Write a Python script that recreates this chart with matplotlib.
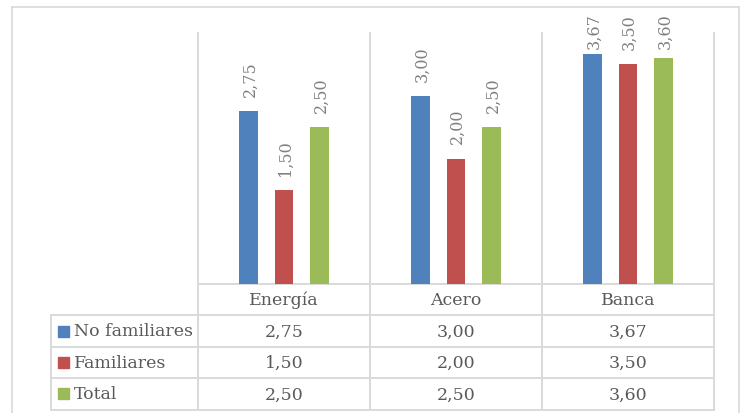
import matplotlib
matplotlib.use("Agg")
import matplotlib.pyplot as plt

categories = ["Energía", "Acero", "Banca"]
series_names = ["No familiares", "Familiares", "Total"]
no_familiares = [2.75, 3.00, 3.67]
familiares = [1.50, 2.00, 3.50]
total = [2.50, 2.50, 3.60]
series_values = [no_familiares, familiares, total]
colors = ["#4f81bd", "#c0504d", "#9bbb59"]

def fmt(v):
    return f"{v:.2f}".replace(".", ",")

W, H = 740, 414
fig = plt.figure(figsize=(W / 100, H / 100), dpi=100)
fig.patch.set_facecolor("white")

FONT = "DejaVu Serif"
TEXT = "#595959"
LABEL = "#808080"
GRID = "#d9d9d9"

# pixel layout
plot_left, plot_right = 198, 714
plot_top, plot_bottom = 34, 285
row_edges = [285, 316, 348, 379, 411]
table_left = 51

# overlay in pixel coordinates for frame and data table
ov = fig.add_axes([0, 0, 1, 1])
ov.set_xlim(0, W)
ov.set_ylim(H, 0)
ov.axis("off")

# chart frame
ov.plot([12, 739], [8, 8], color=GRID, lw=1.2)
ov.plot([12, 12], [8, H], color=GRID, lw=1.2)
ov.plot([739, 739], [8, H], color=GRID, lw=1.2)

# bar plot area
ax = fig.add_axes([plot_left / W, (H - plot_bottom) / H,
                   (plot_right - plot_left) / W, (plot_bottom - plot_top) / H])
ax.set_xlim(-0.5, len(categories) - 0.5)
ax.set_ylim(0, 4)
ax.axis("off")
ax.patch.set_alpha(0)

px_per_unit = (plot_bottom - plot_top) / 4.0
label_gap = 15 / px_per_unit
label_cap = 3.76

bar_w = 0.107
spacing = 0.207
n = len(series_values)
for s, (vals, col) in enumerate(zip(series_values, colors)):
    off = (s - (n - 1) / 2) * spacing
    xs = [i + off for i in range(len(categories))]
    ax.bar(xs, vals, width=bar_w, color=col, zorder=3)
    for x, v in zip(xs, vals):
        ax.text(x + 0.008, min(v + label_gap, label_cap), fmt(v), rotation=90,
                ha="center", va="bottom", color=LABEL, fontsize=11.5,
                family=FONT, clip_on=False)

# vertical separators through plot and table
ncol = len(categories)
col_w = (plot_right - plot_left) / ncol
col_edges = [plot_left + k * col_w for k in range(ncol + 1)]
for xe in col_edges:
    ov.plot([xe, xe], [plot_top, row_edges[-1]], color=GRID, lw=1.4, zorder=1)
ov.plot([table_left, table_left], [row_edges[1], row_edges[-1]], color=GRID, lw=1.4)

# horizontal table lines
ov.plot([plot_left, plot_right], [row_edges[0], row_edges[0]], color=GRID, lw=1.4)
for ye in row_edges[1:]:
    ov.plot([table_left, plot_right], [ye, ye], color=GRID, lw=1.4)

# header row
for k, cat in enumerate(categories):
    cx = col_edges[k] + col_w / 2
    cy = (row_edges[0] + row_edges[1]) / 2
    ov.text(cx, cy, cat, ha="center", va="center", color=TEXT,
            fontsize=12.5, family=FONT)

# data rows
for r, (name, vals, col) in enumerate(zip(series_names, series_values, colors)):
    y0, y1 = row_edges[r + 1], row_edges[r + 2]
    cy = (y0 + y1) / 2
    ov.add_patch(plt.Rectangle((58, cy - 5.5), 11, 11, color=col))
    ov.text(74, cy, name, ha="left", va="center", color=TEXT,
            fontsize=12.5, family=FONT)
    for k, v in enumerate(vals):
        cx = col_edges[k] + col_w / 2
        ov.text(cx, cy, fmt(v), ha="center", va="center", color=TEXT,
                fontsize=12.5, family=FONT)

fig.savefig("out.png", dpi=100, facecolor="white")
